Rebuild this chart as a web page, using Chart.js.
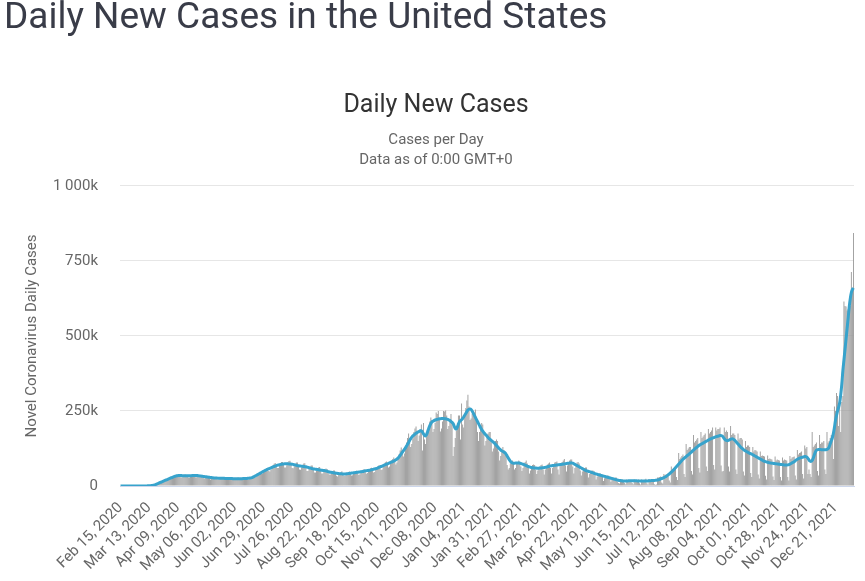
<!DOCTYPE html>
<html>
<head>
<meta charset="utf-8">
<script src="https://cdn.jsdelivr.net/npm/chart.js@4.4.1/dist/chart.umd.min.js"></script>
<style>
  html, body { margin: 0; padding: 0; background: #fff; }
  #wrap { position: relative; width: 865px; height: 581px; overflow: hidden; }
  #heading { position: absolute; left: 4px; top: -3px; margin: 0; font-family: Roboto, sans-serif; font-weight: 400; font-size: 37px; line-height: 37px; color: #393c48; white-space: nowrap; z-index: 2; }
  canvas { position: absolute; left: 0; top: 0; }
</style>
</head>
<body>
<div id="wrap">
  <h1 id="heading">Daily New Cases in the United States</h1>
  <canvas id="c" width="865" height="581"></canvas>
</div>
<script>
// Daily new cases (thousands), one row per week starting Sat Feb 15, 2020
const dailyCasesK = [
0,0,0,0,0,0,0,
0,0,0,0,0,0.01,0,
0.02,0.03,0.04,0.06,0.08,0.1,0.15,
0.1,0.15,0.2,0.3,0.45,0.6,0.9,
1.0,1.2,1.9,2.9,4.3,5.6,7.0,
9,9.5,11,12.5,15,17.5,19.5,
20,19,21,25,27,29,32,
33,28,29,32,34,35,36,
35,29,28,30,33,38,36,
34,28,28,32,37,38,39,
36,29,29,31,34,36,37,
32,27,25,28,31,33,33,
28,22,23,26,28,29,29,
27,21,22,25,27,29,28,
26,20,21,24,26,28,28,
25,20,20,23,26,27,28,
26,20,21,23,26,27,29,
25,21,21,24,27,30,32,
33,28,30,36,40,45,46,
46,42,44,50,55,58,60,
50,48,53,62,68,74,77,
70,60,60,67,75,80,80,
74,62,62,69,78,83,84,
73,60,59,66,74,78,78,
68,55,54,62,70,75,76,
65,50,50,57,64,68,68,
58,45,45,52,59,62,63,
53,42,42,48,54,58,57,
48,38,38,42,48,52,52,
44,34,32,37,41,46,49,
41,34,33,39,43,46,48,
43,35,36,42,47,50,51,
46,37,39,44,51,54,56,
50,41,43,49,56,59,61,
55,45,47,55,62,66,69,
64,53,55,65,74,79,82,
76,62,65,74,86,90,95,
88,72,78,92,106,118,128,
118,98,108,125,145,160,175,
158,130,140,158,180,192,198,
185,150,168,188,205,118,210,
155,140,165,180,200,215,228,
220,180,190,210,245,240,250,
225,182,192,215,250,248,252,
235,190,200,220,240,215,100,
130,160,185,210,235,235,155,
275,205,195,235,260,285,304,
265,220,225,240,245,245,255,
215,180,150,180,200,210,205,
175,135,150,165,175,180,180,
145,115,125,140,150,155,150,
115,85,100,120,130,120,115,
100,70,55,60,75,80,85,
75,55,60,75,80,85,82,
65,50,60,75,80,85,75,
60,42,52,65,70,72,70,
55,40,52,62,65,70,72,
55,38,55,65,72,75,78,
60,42,60,72,78,80,82,
55,38,75,75,80,85,90,
68,48,68,78,85,88,88,
65,42,60,72,78,80,75,
52,35,48,58,60,62,62,
45,28,40,50,52,52,50,
38,22,32,40,42,42,40,
30,17,26,32,34,35,34,
24,14,20,25,27,28,28,
15,10,8,20,22,22,20,
10,6,22,18,19,20,20,
10,6,22,18,20,20,22,
9,5,22,17,19,21,24,
9,5,23,18,20,21,22,
6,4,5,28,28,30,32,
12,8,40,36,38,40,42,
18,12,65,55,60,62,65,
30,20,110,90,95,100,105,
40,30,140,120,125,130,130,
50,38,170,145,150,155,160,
60,45,180,160,165,170,175,
65,50,190,175,180,185,195,
70,55,195,185,190,190,195,
68,48,50,195,180,185,180,
65,48,200,170,175,175,170,
55,40,175,155,160,160,155,
48,35,150,130,135,135,130,
43,30,130,115,120,118,115,
38,25,115,100,102,100,98,
34,22,102,90,92,90,88,
32,20,98,85,88,87,85,
30,18,95,85,88,87,85,
30,18,100,90,95,97,98,
35,22,120,105,110,112,115,
40,25,135,125,130,40,55,
40,30,180,130,135,140,145,
50,35,170,140,145,145,150,
55,40,180,145,150,160,170,
150,90,265,250,310,300,200,
270,180,280,300,615,600,598,
585,590,580,600,713,650,843
];

// 7-day moving average (thousands), same weekly rows
const movingAvgK = [
0,0,0,0,0,0,0,
0,0,0,0,0,0,0,
0,0,0,0,0.1,0.1,0.1,
0.1,0.2,0.2,0.3,0.4,0.5,0.7,
1,1.3,1.8,2.5,3.5,4.8,6.3,
8,9.5,11,12.5,14,15.5,17,
18.5,20,21.5,23,24.5,26,27.5,
29,30.5,32,33,34,34.5,35,
35,35,34.5,34.5,34,34,34,
34,34,34,34.5,34.5,35,35,
35,35,35,34.5,34,33.5,33,
32.5,32,31.5,31,30.5,30,29.5,
29,28.5,28,27.5,27,27,26.5,
26.5,26,26,26,25.5,25.5,25.5,
25.5,25,25,25,25,25,25,
25,24.5,24.5,24.5,24.5,24.5,24.5,
24.5,24.5,24.5,24.5,25,25,25,
25,25.5,26,26.5,27,28,29.5,
31,33,35,37,39,41,43,
45,47,49,51,53,54.5,56,
57.5,59,60.5,62,63.5,65,66.5,
68,69,70,71,72,72.5,73,
73.5,74,74,74,74,73.5,73,
73,72.5,72,71,70,69,68,
67.5,67,66.5,66,65.5,65,64.5,
64,63,62,61,60,59,58,
57,56.5,56,55.5,55,54,53.5,
53,52.5,52,51.5,51,50,49,
48,47,46,45.5,45,44,43.5,
43,42.5,42,41.5,41,40.5,40.5,
40,40,40,40.5,41,41.5,42,
42.5,43,43.5,44,44.5,45,45.5,
46,46.5,47,47.5,48,48.5,49.5,
50.5,51,51.5,52,52.5,53,54,
55,56,57,58,59,60.5,62,
63.5,65,66.5,68,69.5,71,72.5,
74,75.5,77,78.5,80,81.5,83,
85,87.5,90,93,97,102,107,
112,117,122,127,133,139,145,
152,158,163,167,170,173,176,
178,180,182,184,184,180,174,
169,167,172,182,192,201,208,
213,216,218,220,221,222,223,
224,224,225,225,225,224,224,
223,222,220,218,215,212,208,
200,192,190,196,206,214,218,
221,225,230,236,242,248,253,
256,257,255,250,243,236,229,
222,215,208,201,194,188,183,
178,174,170,166,162,158,155,
152,149,146,143,139,135,131,
127,123,120,117,115,113,111,
106,100,94,88,83,79,77,
76,76,76.5,77,77,76.5,76,
75,74,72.5,71,69.5,68,66.5,
65,63.5,62.5,61.5,61,60.5,60,
60,59.5,59.5,59.5,60,60,60.5,
61,61.5,62,63,64,65,66,
67,67.5,68,68.5,69,69.5,70,
70.5,71,71.5,72,72.5,73,73.5,
74,75,75.5,76,76.5,77,77,
76,74,72,70,68,66,64,
62,60,58,56,54,52,50.5,
49.5,48.5,47.5,46.5,45,44,42.5,
41,40,39,38,37,36,35,
34,33,32,31,30,29,28,
27,26,25,24,23,22,21,
20,19,18.5,18,17.5,17,17,
17,17,17,17,17.5,17.5,17.5,
17.5,17.5,17.5,17.5,17.5,17,17,
17,17,17,17,17,17,17,
17,17,17.5,17.5,18,18,18.5,
18.5,19,19.5,20,21,22,23.5,
25,26.5,28,30,32,34.5,37,
40,43,46,49.5,53,57,61,
65,69,73,77,81,85,89,
92,95,98,101,104,107,110,
113,117,120,123,126,129,132,
135,137,139,141,143,145,147,
149,151,153,155,157,158,160,
161,163,164,165,166,167,168,
168,167,163,158,154,152,151,
152,154,156,157,157,155,152,
148,144,140,136,132,128,125,
122,119,117,115,113,111,109,
108,106,104,102,100,98,96,
94,92,90,88,86,84,82.5,
81,80,79,78,77,76.5,76,
75.5,75,74.5,74,73.5,73,72.5,
72,71.5,71,70.5,70,70,70,
70.5,71.5,73,75,77,79,81,
84,87,89,91,93,94,95,
96,97,98,98,96,92,87,
83,82,85,93,103,113,119,
121,122,122,122,121,121,121,
121,121,122,124,130,140,150,
160,175,195,218,235,250,263,
278,305,340,385,420,455,490,
525,560,597,625,645,655,660
];

const monthNames = ['Jan','Feb','Mar','Apr','May','Jun','Jul','Aug','Sep','Oct','Nov','Dec'];
const startYear = 2020, startMonth = 1, startDay = 15; // Feb 15, 2020
const tickEvery = 27;
const yTicks = [0, 250, 500, 750, 1000];

const categories = dailyCasesK.map((_, i) => {
  const d = new Date(Date.UTC(startYear, startMonth, startDay + i));
  return monthNames[d.getUTCMonth()] + ' ' + String(d.getUTCDate()).padStart(2, '0') + ', ' + d.getUTCFullYear();
});

function fmtK(v) {
  if (v === 0) return '0';
  if (v >= 1000) return Math.floor(v / 1000) + ' ' + String(v % 1000).padStart(3, '0') + 'k';
  return v + 'k';
}

new Chart(document.getElementById('c'), {
  type: 'bar',
  data: {
    labels: categories,
    datasets: [
      {
        type: 'line',
        label: '7-day moving average',
        data: movingAvgK,
        borderColor: '#37a3cc',
        borderWidth: 3,
        pointRadius: 0,
        tension: 0.4,
        fill: false,
        order: 0
      },
      {
        type: 'bar',
        label: 'Daily Cases',
        data: dailyCasesK,
        backgroundColor: '#999999',
        barPercentage: 1,
        categoryPercentage: 0.85,
        order: 1
      }
    ]
  },
  options: {
    responsive: false,
    animation: false,
    devicePixelRatio: 1,
    layout: { padding: { top: 91, right: 11, bottom: 0, left: 18 } },
    plugins: {
      legend: { display: false },
      tooltip: { enabled: false },
      title: {
        display: true,
        text: 'Daily New Cases',
        color: '#333333',
        font: { family: 'Roboto', size: 25, weight: 'normal', lineHeight: 1.2 },
        padding: { top: 0, bottom: 9 }
      },
      subtitle: {
        display: true,
        text: ['Cases per Day', 'Data as of 0:00 GMT+0'],
        color: '#666666',
        font: { family: 'Roboto', size: 15, weight: 'normal', lineHeight: 1.333 },
        padding: { top: 0, bottom: 16 }
      }
    },
    scales: {
      x: {
        grid: { display: false },
        border: { display: true, color: '#ccd6eb', width: 1 },
        ticks: {
          autoSkip: false,
          minRotation: 45,
          maxRotation: 45,
          padding: 5,
          color: '#666666',
          font: { family: 'Roboto', size: 15 },
          callback: function (value, index) {
            return index % tickEvery === 0 ? this.getLabelForValue(value) : null;
          }
        },
        afterFit: function (s) { s.height = 95; }
      },
      y: {
        min: 0,
        max: 1000,
        afterBuildTicks: function (s) { s.ticks = yTicks.map(v => ({ value: v })); },
        grid: { color: '#e6e6e6', drawTicks: false },
        border: { display: false },
        ticks: {
          padding: 22,
          color: '#666666',
          font: { family: 'Roboto', size: 15 },
          callback: function (v) { return fmtK(v); }
        },
        title: {
          display: true,
          text: 'Novel Coronavirus Daily Cases',
          color: '#666666',
          font: { family: 'Roboto', size: 15, weight: 'normal' },
          padding: { top: 5, bottom: 0 }
        },
        afterFit: function (s) { s.width = 102; }
      }
    }
  }
});
</script>
</body>
</html>
